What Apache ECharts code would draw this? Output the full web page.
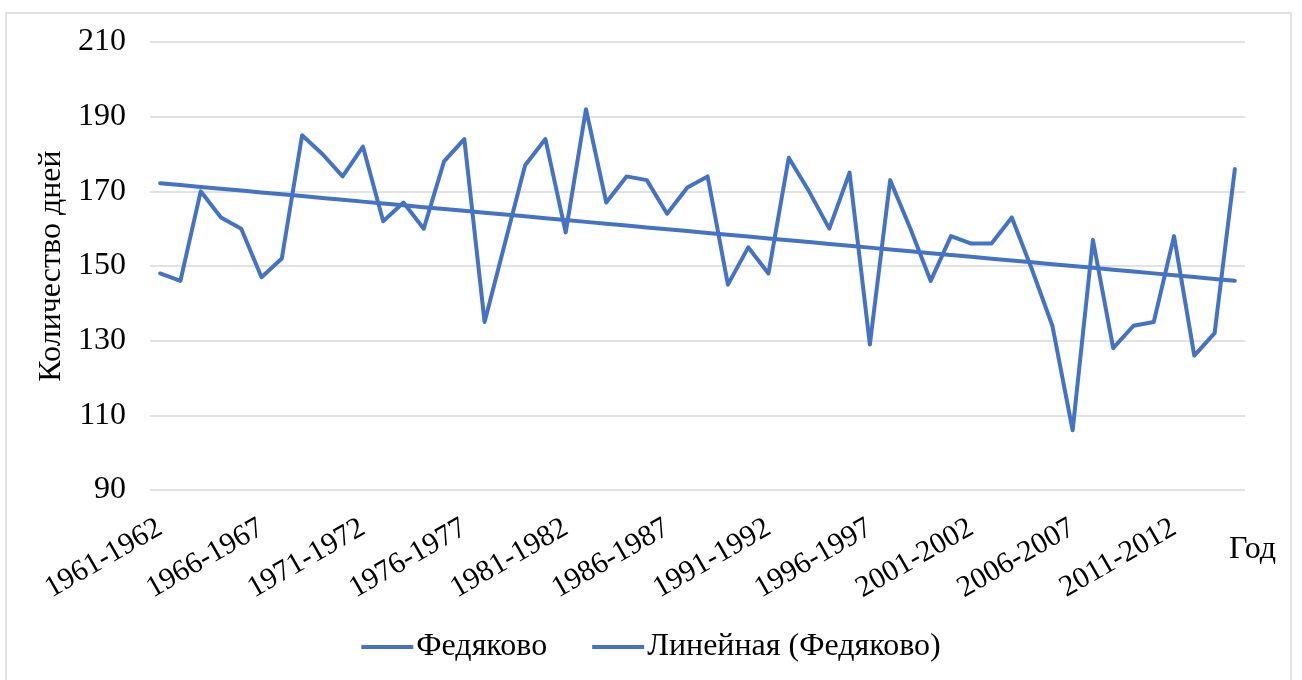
<!DOCTYPE html>
<html>
<head>
<meta charset="utf-8">
<script src="https://cdn.jsdelivr.net/npm/echarts@6/dist/echarts.min.js"></script>
<style>
  html, body { margin: 0; padding: 0; background: #fff; }
  #chart { width: 1302px; height: 680px; }
</style>
</head>
<body>
<div id="chart"></div>
<script>
// Seasons, 1961-1962 … 2014-2015
const seasons = [];
for (let y = 1961; y <= 2014; y++) seasons.push(y + '-' + (y + 1));

// Number of days per season, Федяково
const days = [
  148, 146, 170, 163, 160, 147, 152, 185, 180, 174,
  182, 162, 167, 160, 178, 184, 135, 156, 177, 184,
  159, 192, 167, 174, 173, 164, 171, 174, 145, 155,
  148, 179, 170, 160, 175, 129, 173, 160, 146, 158,
  156, 156, 163, 149, 134, 106, 157, 128, 134, 135,
  158, 126, 132, 176
];

const yTicks = { min: 90, max: 210, step: 20 };

const seriesName = 'Федяково';
const trendName = 'Линейная (Федяково)';
const yTitle = 'Количество дней';
const xTitle = 'Год';

// Least-squares linear trend over the season index
function linearTrend(values) {
  const n = values.length;
  let sx = 0, sy = 0, sxx = 0, sxy = 0;
  values.forEach((v, i) => { sx += i; sy += v; sxx += i * i; sxy += i * v; });
  const b = (n * sxy - sx * sy) / (n * sxx - sx * sx);
  const a = (sy - b * sx) / n;
  return values.map((_, i) => +(a + b * i).toFixed(3));
}
const trend = linearTrend(days);

const FONT = '"Liberation Serif", "Times New Roman", serif';
const FS = 32;
const BLUE = '#4472C4';
const GRID = '#d9d9d9';

const chart = echarts.init(document.getElementById('chart'), null, { renderer: 'canvas' });
chart.setOption({
  animation: false,
  backgroundColor: '#fff',
  textStyle: { fontFamily: FONT, color: '#000' },
  graphic: [{
    type: 'rect',
    shape: { x: 6, y: 13, width: 1285, height: 680 },
    style: { fill: 'none', stroke: GRID, lineWidth: 1.5 },
    silent: true
  }],
  grid: { left: 150, top: 42, width: 1095, height: 448 },
  legend: {
    bottom: 12,
    left: 'center',
    icon: 'rect',
    itemWidth: 52,
    itemHeight: 4,
    itemGap: 45,
    textStyle: { fontFamily: FONT, fontSize: FS, color: '#000', padding: [0, 0, 0, -2] },
    data: [seriesName, trendName]
  },
  xAxis: {
    type: 'category',
    data: seasons,
    boundaryGap: true,
    name: xTitle,
    nameLocation: 'end',
    nameGap: -16,
    nameTextStyle: {
      fontFamily: FONT, fontSize: FS, color: '#000',
      align: 'left', verticalAlign: 'top', padding: [44, 0, 0, 0]
    },
    axisLine: { show: false },
    axisTick: { show: false },
    axisLabel: {
      interval: 4,
      rotate: 30,
      margin: 36,
      fontFamily: FONT, fontSize: 30, color: '#000'
    },
    splitLine: { show: false }
  },
  yAxis: {
    type: 'value',
    min: yTicks.min,
    max: yTicks.max,
    interval: yTicks.step,
    name: yTitle,
    nameLocation: 'middle',
    nameGap: 75,
    nameTextStyle: { fontFamily: FONT, fontSize: FS, color: '#000' },
    axisLine: { show: false },
    axisTick: { show: false },
    axisLabel: { margin: 24, fontFamily: FONT, fontSize: FS, color: '#000' },
    splitLine: { lineStyle: { color: GRID, width: 1.5 } }
  },
  series: [
    {
      name: seriesName,
      type: 'line',
      data: days,
      symbol: 'none',
      lineStyle: { color: BLUE, width: 4, join: 'round', cap: 'round' },
      itemStyle: { color: BLUE }
    },
    {
      name: trendName,
      type: 'line',
      data: trend,
      symbol: 'none',
      lineStyle: { color: BLUE, width: 4, cap: 'round' },
      itemStyle: { color: BLUE }
    }
  ]
});
</script>
</body>
</html>
